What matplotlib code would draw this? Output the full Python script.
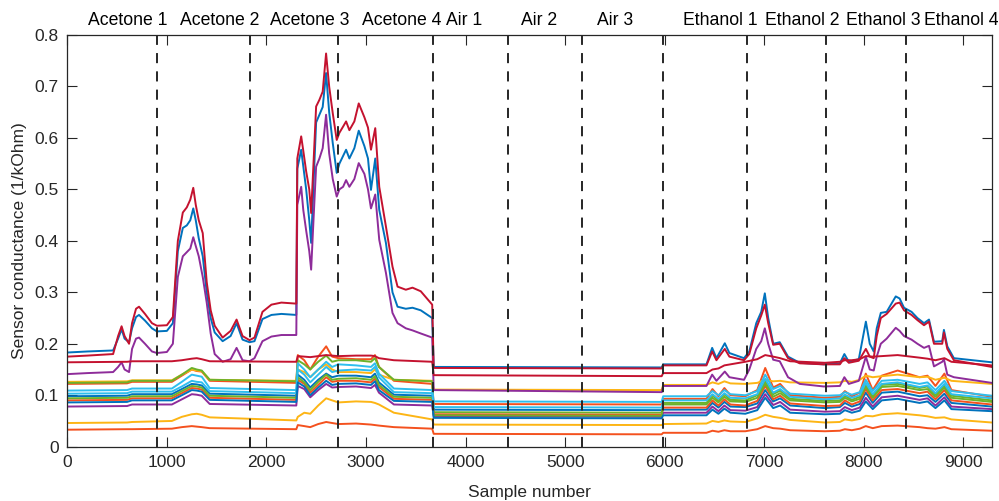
import matplotlib
matplotlib.use("Agg")
import matplotlib.pyplot as plt
from matplotlib.transforms import blended_transform_factory
from matplotlib.ticker import FuncFormatter

plt.rcParams['font.family'] = ['Liberation Sans', 'DejaVu Sans']

# ---------------------------------------------------------------- data
# Phase boundaries (sample index) and phase names
boundaries = [898, 1835, 2722, 3673, 4425, 5167, 5979, 6824, 7618, 8421]
phase_names = ["Acetone 1", "Acetone 2", "Acetone 3", "Acetone 4",
               "Air 1", "Air 2", "Air 3",
               "Ethanol 1", "Ethanol 2", "Ethanol 3", "Ethanol 4"]
phase_label_x = [608, 1527, 2438, 3359, 3985, 4740, 5504,
                 6556, 7380, 8193, 8981]

# Sample positions for the three most responsive sensors
top_x = [0, 200, 460, 510, 545, 575, 620, 650, 690, 720, 780, 850, 900,
         1000, 1060, 1110, 1160, 1200, 1235, 1265, 1290, 1320, 1360, 1400,
         1440, 1480, 1560, 1640, 1700, 1760, 1830, 1880, 1960, 2050, 2150,
         2300, 2310, 2349, 2370, 2399, 2430, 2449, 2475, 2499, 2532, 2565,
         2599, 2630, 2666, 2706, 2733, 2770, 2800, 2833, 2883, 2927, 2984,
         3020, 3050, 3093, 3133, 3200, 3266, 3317, 3400, 3467, 3550, 3665,
         3680, 5970,
         5985, 6420, 6477, 6520, 6604, 6650, 6797, 6850, 6920, 6970, 7006,
         7040, 7090, 7156, 7239, 7357, 7598, 7760, 7805, 7850, 7950, 8021,
         8060, 8100, 8130, 8171, 8230, 8321, 8360, 8404, 8480, 8539, 8605,
         8655, 8705, 8788, 8805, 8839, 8905, 9285]

sensor_blue_top = [
    0.183, 0.185, 0.187, 0.210, 0.228, 0.210, 0.203, 0.230, 0.252, 0.256, 0.245, 0.230, 0.224,
    0.225, 0.240, 0.380, 0.425, 0.430, 0.440, 0.463, 0.440, 0.405, 0.370, 0.300, 0.250, 0.222,
    0.205, 0.215, 0.240, 0.208, 0.203, 0.205, 0.248, 0.256, 0.258,
    0.256, 0.540, 0.577, 0.545, 0.500, 0.440, 0.396, 0.520, 0.630, 0.645, 0.660, 0.726, 0.650,
    0.590, 0.532, 0.550, 0.565, 0.577, 0.560, 0.580, 0.614, 0.584, 0.560, 0.499, 0.560, 0.460,
    0.396, 0.300, 0.272, 0.268, 0.270, 0.265, 0.250,
    0.155, 0.154,
    0.160, 0.160, 0.192, 0.172, 0.201, 0.182, 0.172, 0.185, 0.240, 0.262, 0.298, 0.250, 0.200,
    0.203, 0.175, 0.163, 0.160, 0.162, 0.180, 0.165, 0.170, 0.243, 0.200, 0.185, 0.230, 0.260,
    0.262, 0.292, 0.288, 0.270, 0.262, 0.250, 0.240, 0.247, 0.204, 0.205, 0.227, 0.195, 0.172,
    0.164]

sensor_red_top = [
    0.175, 0.177, 0.180, 0.215, 0.234, 0.215, 0.200, 0.240, 0.268, 0.272, 0.258, 0.240, 0.235,
    0.236, 0.252, 0.400, 0.455, 0.465, 0.480, 0.503, 0.470, 0.440, 0.415, 0.320, 0.265, 0.235,
    0.212, 0.225, 0.247, 0.215, 0.207, 0.212, 0.262, 0.276, 0.280,
    0.278, 0.560, 0.603, 0.575, 0.535, 0.500, 0.454, 0.560, 0.661, 0.674, 0.690, 0.764, 0.700,
    0.648, 0.596, 0.610, 0.622, 0.632, 0.615, 0.632, 0.667, 0.640, 0.620, 0.577, 0.619, 0.505,
    0.428, 0.350, 0.311, 0.305, 0.309, 0.302, 0.276,
    0.153, 0.152,
    0.158, 0.158, 0.185, 0.168, 0.190, 0.175, 0.168, 0.180, 0.230, 0.255, 0.276, 0.240, 0.198,
    0.200, 0.172, 0.162, 0.160, 0.160, 0.172, 0.163, 0.167, 0.190, 0.175, 0.172, 0.215, 0.250,
    0.258, 0.278, 0.280, 0.265, 0.256, 0.246, 0.236, 0.243, 0.200, 0.200, 0.222, 0.190, 0.168,
    0.155]

sensor_purple_top = [
    0.141, 0.143, 0.145, 0.155, 0.164, 0.150, 0.145, 0.190, 0.210, 0.212, 0.200, 0.185, 0.182,
    0.184, 0.200, 0.330, 0.370, 0.378, 0.385, 0.407, 0.390, 0.370, 0.330, 0.280, 0.220, 0.180,
    0.165, 0.170, 0.192, 0.168, 0.166, 0.172, 0.205, 0.214, 0.217,
    0.217, 0.470, 0.505, 0.460, 0.420, 0.380, 0.344, 0.450, 0.544, 0.560, 0.580, 0.645, 0.570,
    0.520, 0.486, 0.500, 0.505, 0.518, 0.505, 0.520, 0.551, 0.530, 0.500, 0.463, 0.490, 0.402,
    0.338, 0.260, 0.240, 0.230, 0.226, 0.220, 0.212,
    0.110, 0.106,
    0.118, 0.118, 0.140, 0.128, 0.146, 0.135, 0.130, 0.150, 0.190, 0.205, 0.230, 0.200, 0.169,
    0.166, 0.135, 0.122, 0.117, 0.118, 0.135, 0.122, 0.128, 0.175, 0.150, 0.148, 0.175, 0.200,
    0.210, 0.231, 0.225, 0.215, 0.208, 0.200, 0.192, 0.196, 0.156, 0.165, 0.170, 0.140, 0.135,
    0.124]

# Sample positions for the remaining sensors
bundle_x = [0, 600, 650, 1050, 1150, 1250, 1300, 1350, 1430, 2300, 2315, 2380,
            2440, 2520, 2600, 2660, 2722, 2900, 3050, 3090, 3130, 3280, 3665,
            3680, 5970, 5985, 6420, 6480, 6540, 6600, 6660, 6810, 6930, 7010,
            7090, 7160, 7260, 7610, 7760, 7810, 7880, 7960, 8020, 8090, 8180,
            8340, 8560, 8640, 8720, 8810, 8880, 9285]

sensor_crimson = [
    0.164, 0.165, 0.166, 0.166, 0.168, 0.171, 0.172, 0.170, 0.166, 0.165, 0.176, 0.175, 0.174,
    0.176, 0.178, 0.177, 0.176, 0.177, 0.177, 0.176, 0.172, 0.168, 0.165, 0.139, 0.137, 0.143,
    0.143, 0.150, 0.152, 0.158, 0.160, 0.165, 0.170, 0.178, 0.175, 0.172, 0.166, 0.163, 0.165,
    0.168, 0.168, 0.170, 0.176, 0.175, 0.176, 0.178, 0.173, 0.171, 0.168, 0.172, 0.165, 0.158]
sensor_yellow_hi = [
    0.126, 0.127, 0.129, 0.129, 0.140, 0.150, 0.148, 0.147, 0.130, 0.128, 0.150, 0.145, 0.135,
    0.150, 0.160, 0.150, 0.145, 0.145, 0.143, 0.150, 0.140, 0.130, 0.128, 0.111, 0.110, 0.120,
    0.120, 0.125, 0.122, 0.127, 0.123, 0.122, 0.124, 0.130, 0.127, 0.128, 0.125, 0.124, 0.125,
    0.128, 0.126, 0.130, 0.138, 0.135, 0.137, 0.140, 0.135, 0.136, 0.130, 0.134, 0.128, 0.122]
sensor_green_hi = [
    0.124, 0.125, 0.128, 0.128, 0.140, 0.153, 0.150, 0.148, 0.130, 0.127, 0.168, 0.160, 0.150,
    0.165, 0.177, 0.165, 0.168, 0.168, 0.165, 0.172, 0.155, 0.130, 0.127, 0.067, 0.066, 0.085,
    0.085, 0.100, 0.089, 0.102, 0.091, 0.090, 0.100, 0.127, 0.102, 0.109, 0.093, 0.089, 0.090,
    0.099, 0.091, 0.097, 0.121, 0.099, 0.120, 0.122, 0.114, 0.117, 0.101, 0.119, 0.099, 0.090]
sensor_orange_hi = [
    0.122, 0.123, 0.126, 0.126, 0.138, 0.150, 0.147, 0.146, 0.128, 0.124, 0.178, 0.168, 0.150,
    0.175, 0.195, 0.175, 0.172, 0.170, 0.170, 0.178, 0.155, 0.128, 0.122, 0.083, 0.082, 0.093,
    0.093, 0.112, 0.098, 0.114, 0.100, 0.098, 0.110, 0.153, 0.115, 0.122, 0.100, 0.095, 0.097,
    0.108, 0.098, 0.105, 0.142, 0.110, 0.138, 0.148, 0.135, 0.138, 0.118, 0.142, 0.110, 0.097]
sensor_cyan_hi = [
    0.109, 0.110, 0.113, 0.113, 0.126, 0.140, 0.138, 0.136, 0.114, 0.110, 0.162, 0.150, 0.135,
    0.150, 0.165, 0.155, 0.160, 0.158, 0.155, 0.162, 0.142, 0.113, 0.110, 0.088, 0.087, 0.098,
    0.098, 0.108, 0.100, 0.110, 0.102, 0.100, 0.108, 0.140, 0.112, 0.118, 0.103, 0.099, 0.100,
    0.106, 0.101, 0.106, 0.130, 0.108, 0.128, 0.130, 0.122, 0.125, 0.110, 0.128, 0.108, 0.099]
sensor_cyan_mid = [
    0.103, 0.104, 0.107, 0.107, 0.117, 0.128, 0.126, 0.125, 0.108, 0.104, 0.150, 0.140, 0.125,
    0.140, 0.155, 0.145, 0.148, 0.150, 0.148, 0.155, 0.135, 0.106, 0.104, 0.077, 0.076, 0.090,
    0.090, 0.102, 0.093, 0.104, 0.095, 0.094, 0.102, 0.132, 0.105, 0.112, 0.097, 0.092, 0.094,
    0.101, 0.095, 0.100, 0.124, 0.102, 0.122, 0.125, 0.116, 0.119, 0.104, 0.122, 0.102, 0.094]
sensor_blue_mid = [
    0.098, 0.099, 0.102, 0.102, 0.112, 0.122, 0.121, 0.119, 0.103, 0.099, 0.140, 0.130, 0.115,
    0.130, 0.142, 0.135, 0.138, 0.138, 0.135, 0.142, 0.125, 0.101, 0.099, 0.072, 0.071, 0.072,
    0.072, 0.085, 0.076, 0.087, 0.078, 0.077, 0.084, 0.110, 0.088, 0.094, 0.080, 0.075, 0.077,
    0.085, 0.078, 0.083, 0.105, 0.085, 0.105, 0.107, 0.098, 0.100, 0.087, 0.103, 0.085, 0.078]
sensor_green_lo = [
    0.094, 0.095, 0.098, 0.098, 0.108, 0.118, 0.117, 0.115, 0.099, 0.095, 0.135, 0.125, 0.110,
    0.126, 0.140, 0.130, 0.132, 0.133, 0.130, 0.137, 0.120, 0.097, 0.095, 0.061, 0.060, 0.082,
    0.082, 0.095, 0.086, 0.097, 0.088, 0.087, 0.095, 0.122, 0.097, 0.104, 0.090, 0.086, 0.087,
    0.095, 0.088, 0.093, 0.117, 0.095, 0.116, 0.118, 0.110, 0.112, 0.097, 0.115, 0.095, 0.087]
sensor_orange_mid = [
    0.090, 0.091, 0.094, 0.094, 0.104, 0.114, 0.113, 0.111, 0.095, 0.091, 0.130, 0.122, 0.105,
    0.120, 0.135, 0.126, 0.128, 0.128, 0.125, 0.132, 0.116, 0.093, 0.091, 0.063, 0.062, 0.076,
    0.076, 0.090, 0.080, 0.092, 0.082, 0.080, 0.089, 0.118, 0.092, 0.099, 0.084, 0.079, 0.080,
    0.090, 0.082, 0.088, 0.112, 0.090, 0.110, 0.112, 0.104, 0.107, 0.092, 0.110, 0.090, 0.082]
sensor_blue_lo = [
    0.086, 0.087, 0.090, 0.090, 0.100, 0.110, 0.109, 0.107, 0.091, 0.087, 0.125, 0.117, 0.100,
    0.115, 0.128, 0.120, 0.122, 0.123, 0.120, 0.127, 0.110, 0.089, 0.087, 0.056, 0.055, 0.061,
    0.061, 0.072, 0.064, 0.074, 0.066, 0.064, 0.071, 0.095, 0.075, 0.080, 0.066, 0.063, 0.064,
    0.071, 0.066, 0.070, 0.088, 0.073, 0.090, 0.093, 0.085, 0.088, 0.075, 0.090, 0.073, 0.069]
sensor_purple_lo = [
    0.078, 0.079, 0.082, 0.082, 0.092, 0.102, 0.101, 0.099, 0.083, 0.080, 0.118, 0.112, 0.096,
    0.110, 0.122, 0.115, 0.116, 0.117, 0.114, 0.120, 0.105, 0.082, 0.080, 0.059, 0.058, 0.066,
    0.066, 0.078, 0.069, 0.080, 0.071, 0.070, 0.077, 0.102, 0.081, 0.087, 0.072, 0.068, 0.069,
    0.077, 0.071, 0.076, 0.095, 0.078, 0.096, 0.099, 0.091, 0.094, 0.080, 0.096, 0.078, 0.073]
sensor_yellow_lo = [
    0.046, 0.047, 0.048, 0.050, 0.058, 0.063, 0.064, 0.062, 0.057, 0.051, 0.058, 0.066, 0.064,
    0.080, 0.094, 0.090, 0.086, 0.088, 0.087, 0.085, 0.082, 0.066, 0.053, 0.043, 0.042, 0.044,
    0.045, 0.050, 0.048, 0.051, 0.049, 0.048, 0.055, 0.062, 0.058, 0.056, 0.052, 0.047, 0.048,
    0.053, 0.051, 0.054, 0.060, 0.059, 0.063, 0.065, 0.061, 0.059, 0.056, 0.057, 0.053, 0.047]
sensor_orange_lo = [
    0.033, 0.034, 0.034, 0.035, 0.038, 0.040, 0.039, 0.038, 0.036, 0.034, 0.042, 0.040, 0.038,
    0.044, 0.048, 0.046, 0.044, 0.045, 0.043, 0.042, 0.041, 0.038, 0.035, 0.025, 0.024, 0.027,
    0.027, 0.031, 0.029, 0.032, 0.030, 0.030, 0.034, 0.040, 0.036, 0.035, 0.032, 0.030, 0.031,
    0.034, 0.032, 0.035, 0.040, 0.036, 0.040, 0.041, 0.038, 0.036, 0.035, 0.038, 0.034, 0.031]

# ---------------------------------------------------------------- style
C_BLUE = '#0072BD'
C_ORANGE = '#F4511E'
C_YELLOW = '#FDB515'
C_PURPLE = '#8E2C9A'
C_GREEN = '#6CB22B'
C_CYAN = '#2EBEEE'
C_RED = '#C4122F'
INK = '#262626'

series = [
    (top_x, sensor_blue_top, C_BLUE),
    (bundle_x, sensor_orange_hi, C_ORANGE),
    (bundle_x, sensor_yellow_hi, C_YELLOW),
    (top_x, sensor_purple_top, C_PURPLE),
    (bundle_x, sensor_green_hi, C_GREEN),
    (bundle_x, sensor_cyan_hi, C_CYAN),
    (top_x, sensor_red_top, C_RED),
    (bundle_x, sensor_blue_mid, C_BLUE),
    (bundle_x, sensor_orange_mid, C_ORANGE),
    (bundle_x, sensor_yellow_lo, C_YELLOW),
    (bundle_x, sensor_purple_lo, C_PURPLE),
    (bundle_x, sensor_green_lo, C_GREEN),
    (bundle_x, sensor_cyan_mid, C_CYAN),
    (bundle_x, sensor_crimson, C_RED),
    (bundle_x, sensor_blue_lo, C_BLUE),
    (bundle_x, sensor_orange_lo, C_ORANGE),
]

fig = plt.figure(figsize=(9.99, 5.01), dpi=100)
ax = fig.add_axes([0.0674, 0.1084, 0.9253, 0.8218])

for xs, ys, col in series:
    ax.plot(xs, ys, color=col, lw=1.4, solid_joinstyle='round', zorder=2)

for b in boundaries:
    ax.axvline(b, color=INK, lw=1.4, ls=(0, (5.2, 4.2)), zorder=3)

ax.set_xlim(0, 9285)
ax.set_ylim(0, 0.8)
ax.set_xticks(range(0, 9001, 1000))
ax.set_yticks([i / 10 for i in range(9)])
ax.yaxis.set_major_formatter(FuncFormatter(lambda v, p: '0' if abs(v) < 1e-9 else f'{v:.1f}'))

ax.tick_params(direction='in', length=7, width=0.8, top=True, right=True,
               labelsize=12.5, colors=INK, pad=6)
for s in ax.spines.values():
    s.set_color(INK)
    s.set_linewidth(0.9)

ax.set_xlabel('Sample number', fontsize=12.5, color=INK)
ax.set_ylabel('Sensor conductance (1/kOhm)', fontsize=12.5, color=INK)
ax.xaxis.set_label_coords(0.5, -0.093)
ax.yaxis.set_label_coords(-0.044, 0.5)

trans = blended_transform_factory(ax.transData, ax.transAxes)
for name, xc in zip(phase_names, phase_label_x):
    ax.text(xc, 1.036, name, transform=trans, ha='center', va='center',
            fontsize=12.7, color='black', clip_on=False)

fig.savefig('out.png', dpi=100)
